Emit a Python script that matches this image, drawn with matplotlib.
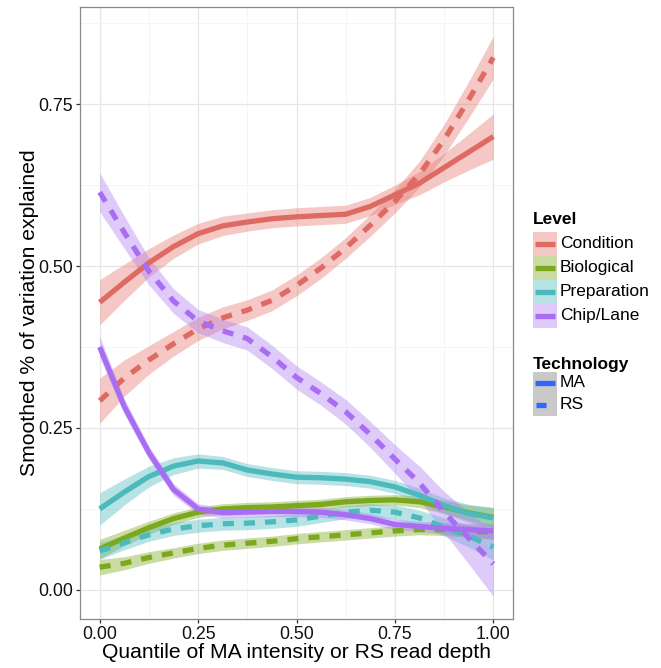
import matplotlib
matplotlib.use("Agg")
import numpy as np
import matplotlib.pyplot as plt
from matplotlib.patches import Rectangle
from matplotlib.ticker import MultipleLocator

plt.rcParams['font.family'] = ['Liberation Sans', 'DejaVu Sans']

# quantile positions where the smoothed curves were read
quantile = [0, 0.0625, 0.125, 0.1875, 0.25, 0.3125, 0.375, 0.4375, 0.5,
            0.5625, 0.625, 0.6875, 0.75, 0.8125, 0.875, 0.9375, 1.0]

levels = ["Condition", "Biological", "Preparation", "Chip/Lane"]
level_colors = ["#DE6B63", "#7BA81C", "#4CB9BD", "#A96DF3"]
ribbon_colors = ["#E6766E", "#7BA81C", "#4CBBC0", "#B17FF2"]
technologies = ["MA", "RS"]

cond_ma = [0.444, 0.475, 0.505, 0.530, 0.550, 0.562, 0.568, 0.573, 0.576,
           0.578, 0.580, 0.592, 0.610, 0.628, 0.652, 0.676, 0.700]
cond_rs = [0.292, 0.327, 0.355, 0.380, 0.403, 0.420, 0.432, 0.447, 0.470,
           0.497, 0.528, 0.563, 0.600, 0.642, 0.695, 0.757, 0.822]
bio_ma = [0.063, 0.080, 0.096, 0.110, 0.120, 0.125, 0.127, 0.128, 0.130,
          0.132, 0.136, 0.138, 0.139, 0.136, 0.128, 0.119, 0.112]
bio_rs = [0.035, 0.041, 0.050, 0.057, 0.064, 0.069, 0.072, 0.075, 0.079,
          0.082, 0.085, 0.088, 0.091, 0.093, 0.093, 0.091, 0.089]
prep_ma = [0.125, 0.151, 0.175, 0.191, 0.199, 0.196, 0.185, 0.179, 0.174,
           0.173, 0.171, 0.167, 0.159, 0.146, 0.130, 0.118, 0.111]
prep_rs = [0.060, 0.073, 0.085, 0.094, 0.099, 0.102, 0.103, 0.105, 0.108,
           0.114, 0.120, 0.123, 0.120, 0.111, 0.097, 0.083, 0.066]
chip_ma = [0.375, 0.283, 0.212, 0.155, 0.125, 0.119, 0.120, 0.121, 0.121,
           0.120, 0.116, 0.110, 0.101, 0.098, 0.095, 0.093, 0.091]
chip_rs = [0.614, 0.552, 0.492, 0.446, 0.415, 0.400, 0.388, 0.360, 0.328,
           0.303, 0.275, 0.240, 0.202, 0.165, 0.120, 0.080, 0.040]

# half widths of the confidence ribbons
cond_ma_se = [0.035, 0.028, 0.022, 0.018, 0.016, 0.015, 0.014, 0.014, 0.014,
              0.014, 0.014, 0.014, 0.015, 0.018, 0.022, 0.028, 0.035]
cond_rs_se = [0.035, 0.028, 0.022, 0.019, 0.018, 0.017, 0.016, 0.016, 0.016,
              0.016, 0.016, 0.017, 0.018, 0.020, 0.024, 0.028, 0.033]
bio_ma_se = [0.015, 0.012, 0.010, 0.009, 0.008, 0.008, 0.008, 0.008, 0.008,
             0.008, 0.008, 0.008, 0.008, 0.009, 0.010, 0.012, 0.015]
bio_rs_se = [0.012, 0.010, 0.009, 0.008, 0.008, 0.008, 0.008, 0.008, 0.008,
             0.008, 0.008, 0.008, 0.008, 0.008, 0.009, 0.010, 0.011]
prep_ma_se = [0.025, 0.020, 0.016, 0.013, 0.011, 0.010, 0.010, 0.010, 0.010,
              0.010, 0.010, 0.010, 0.010, 0.011, 0.012, 0.014, 0.016]
prep_rs_se = [0.013, 0.011, 0.010, 0.010, 0.010, 0.010, 0.010, 0.010, 0.010,
              0.010, 0.010, 0.010, 0.011, 0.012, 0.014, 0.017, 0.020]
chip_ma_se = [0.016, 0.012, 0.010, 0.009, 0.008, 0.008, 0.008, 0.008, 0.008,
              0.008, 0.008, 0.008, 0.008, 0.008, 0.009, 0.010, 0.012]
chip_rs_se = [0.030, 0.025, 0.021, 0.019, 0.018, 0.018, 0.018, 0.018, 0.018,
              0.018, 0.019, 0.020, 0.022, 0.026, 0.032, 0.040, 0.050]

series = [
    (0, "MA", cond_ma, cond_ma_se), (0, "RS", cond_rs, cond_rs_se),
    (1, "MA", bio_ma, bio_ma_se), (1, "RS", bio_rs, bio_rs_se),
    (2, "MA", prep_ma, prep_ma_se), (2, "RS", prep_rs, prep_rs_se),
    (3, "MA", chip_ma, chip_ma_se), (3, "RS", chip_rs, chip_rs_se),
]

W, H = 661, 668
fig = plt.figure(figsize=(W / 100, H / 100), dpi=100)
ax = fig.add_axes([80 / W, 1 - 619 / H, 433 / W, 612 / H])

lw = 3.8
dash = (2.1, 1.9)
x = np.array(quantile)
for lev, tech, y, se in series:
    y = np.array(y)
    se = np.array(se)
    ax.fill_between(x, y - se, y + se, color=ribbon_colors[lev], alpha=0.4,
                    linewidth=0, zorder=2)
for lev, tech, y, se in series:
    ls = '-' if tech == "MA" else (0, dash)
    ax.plot(x, y, color=level_colors[lev], lw=lw, linestyle=ls,
            solid_capstyle='butt', dash_capstyle='butt',
            solid_joinstyle='round', zorder=3)

ax.set_xlim(-0.05, 1.05)
ax.set_ylim(-0.045, 0.90)
ax.xaxis.set_minor_locator(MultipleLocator(0.125))
ax.yaxis.set_minor_locator(MultipleLocator(0.125))
ax.set_xticks([0, 0.25, 0.5, 0.75, 1.0])
ax.set_xticklabels(["0.00", "0.25", "0.50", "0.75", "1.00"])
ax.set_yticks([0, 0.25, 0.5, 0.75])
ax.set_yticklabels(["0.00", "0.25", "0.50", "0.75"])
ax.grid(True, which='major', color='#E6E6E6', lw=0.9, zorder=0)
ax.grid(True, which='minor', color='#F4F4F4', lw=0.6, zorder=0)
ax.set_axisbelow(True)
ax.tick_params(which='major', length=3.2, width=0.9, color='#333333',
               labelsize=12.8, labelcolor='#111111', pad=2)
ax.tick_params(axis='x', which='major', pad=2)
ax.tick_params(which='minor', length=0)
for sp in ax.spines.values():
    sp.set_color('#888888')
    sp.set_linewidth(0.9)

ax.set_xlabel("Quantile of MA intensity or RS read depth", fontsize=15.2,
              labelpad=0)
ax.set_ylabel("Smoothed % of variation explained", fontsize=15.2, labelpad=-1)

# legend drawn in pixel coordinates
lg = fig.add_axes([520 / W, 1 - 440 / H, 141 / W, 240 / H])
lg.set_xlim(520, 661)
lg.set_ylim(440, 200)
lg.axis('off')

lg.text(533, 220, "Level", fontsize=12.5, fontweight='bold', va='center')
for i, name in enumerate(levels):
    top = 232 + 24 * i
    lg.add_patch(Rectangle((533, top), 24, 24, facecolor=ribbon_colors[i],
                           alpha=0.4, edgecolor='none'))
    lg.plot([535, 555], [top + 12, top + 12], color=level_colors[i], lw=3.8,
            solid_capstyle='butt')
    lg.text(560, top + 12, name, fontsize=12.5, va='center')

lg.text(533, 365, "Technology", fontsize=12.5, fontweight='bold', va='center')
for i, tech in enumerate(technologies):
    top = 372 + 22 * i
    lg.add_patch(Rectangle((533, top), 24, 22, facecolor='#C9C9C9',
                           edgecolor='none'))
    if tech == "MA":
        lg.plot([535, 555], [top + 11, top + 11], color='#3366FF', lw=3.8,
                solid_capstyle='butt')
    else:
        lg.plot([536, 546], [top + 11, top + 11], color='#3366FF', lw=3.8,
                solid_capstyle='butt')
    lg.text(560, top + 11, tech, fontsize=12.5, va='center')

fig.savefig("out.png", dpi=100)
